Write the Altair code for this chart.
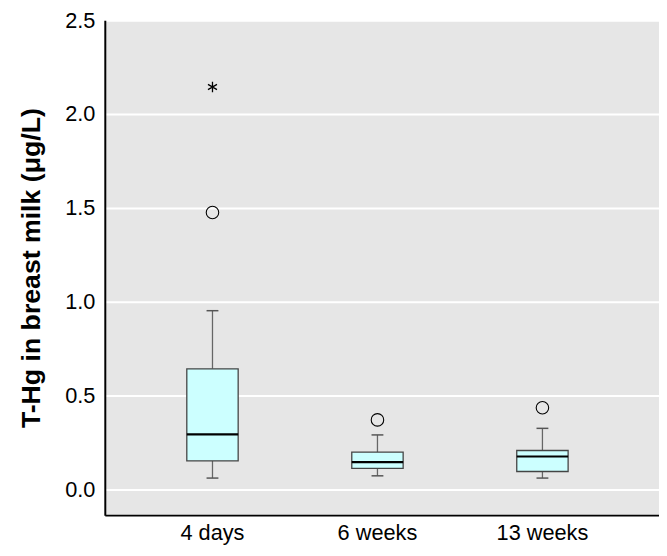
import altair as alt
import pandas as pd

groups = ["4 days", "6 weeks", "13 weeks"]
whisker_low = [0.06, 0.072, 0.06]
q1 = [0.152, 0.112, 0.095]
median = [0.293, 0.145, 0.175]
q3 = [0.642, 0.198, 0.207]
whisker_high = [0.952, 0.29, 0.325]

outlier_groups = ["4 days", "6 weeks", "13 weeks"]
outlier_values = [1.475, 0.37, 0.435]

extreme_groups = ["4 days"]
extreme_values = [2.144]

stats = pd.DataFrame({
    "group": groups, "lo": whisker_low, "q1": q1, "med": median,
    "q3": q3, "hi": whisker_high,
})
outl = pd.DataFrame({"group": outlier_groups, "v": outlier_values})
extr = pd.DataFrame({"group": extreme_groups, "v": extreme_values})

FONT = "Liberation Sans, Arial, sans-serif"

xscale = alt.Scale(domain=groups, paddingInner=0, paddingOuter=0.1796, align=0.425)
yscale = alt.Scale(domain=[-0.1375, 2.5], nice=False, zero=False)

x_enc = alt.X("group:N", scale=xscale, sort=groups,
              axis=alt.Axis(title=None, labelAngle=0, ticks=False, grid=False,
                            labelFontSize=22, labelPadding=8, domainColor="black",
                            domainWidth=2, labelColor="black"))
y_axis = alt.Axis(title="T-Hg in breast milk (μg/L)", values=[0, 0.5, 1.0, 1.5, 2.0, 2.5],
                  format=".1f", ticks=False, grid=True, gridColor="white", gridWidth=2,
                  labelFontSize=22, labelPadding=10, domainColor="black", domainWidth=2,
                  titleFontSize=27, titleFontWeight="bold", titlePadding=20,
                  labelColor="black", titleColor="black")

base = alt.Chart(stats)
xs = alt.X("group:N", scale=xscale, sort=groups)

whisk_lo = base.mark_rule(color="#666666", strokeWidth=1.3).encode(
    x=x_enc, y=alt.Y("lo:Q", scale=yscale, axis=y_axis), y2="q1:Q")
whisk_hi = base.mark_rule(color="#666666", strokeWidth=1.3).encode(
    x=xs, y=alt.Y("q3:Q", scale=yscale), y2="hi:Q")
cap_lo = base.mark_tick(color="#555555", size=12, thickness=1.5, orient="horizontal",
                        opacity=1).encode(x=xs, y=alt.Y("lo:Q", scale=yscale))
cap_hi = base.mark_tick(color="#555555", size=12, thickness=1.5, orient="horizontal",
                        opacity=1).encode(x=xs, y=alt.Y("hi:Q", scale=yscale))
box = base.mark_bar(width=52, fill="#ccffff", stroke="#444444", strokeWidth=1.3,
                    opacity=1).encode(x=xs, y=alt.Y("q1:Q", scale=yscale), y2="q3:Q")
med = base.mark_tick(color="black", size=52, thickness=2.2, orient="horizontal",
                     opacity=1).encode(x=xs, y=alt.Y("med:Q", scale=yscale))

circ = alt.Chart(outl).mark_point(shape="circle", size=160, color="black", filled=False,
                                  strokeWidth=1.1, opacity=1).encode(
    x=xs, y=alt.Y("v:Q", scale=yscale))
star = alt.Chart(extr).mark_point(
    shape="M0,-1L0,1M-0.87,-0.5L0.87,0.5M-0.87,0.5L0.87,-0.5",
    size=110, color="black", filled=False, strokeWidth=1.3, opacity=1).encode(
    x=xs, y=alt.Y("v:Q", scale=yscale))

chart = alt.layer(whisk_lo, whisk_hi, cap_lo, cap_hi, box, med, circ, star).properties(
    width=561, height=501,
    autosize=alt.AutoSizeParams(type="none"),
    padding={"left": 98, "top": 9, "right": 0, "bottom": 38},
    view=alt.ViewBackground(fill="#e6e6e6", stroke=None),
).configure_axis(
    labelFont=FONT, titleFont=FONT
).configure(background="white")

chart.save("out.html", embed_options={"renderer": "svg", "actions": False})
